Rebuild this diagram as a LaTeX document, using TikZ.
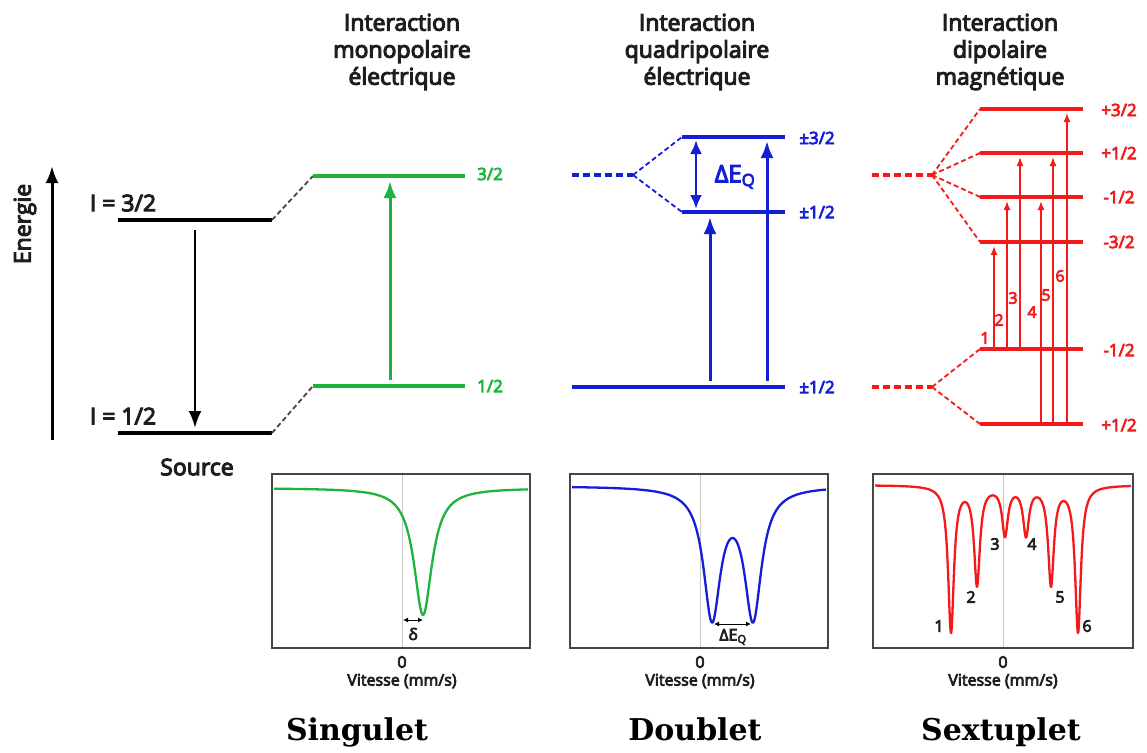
\documentclass[tikz,border=0pt]{standalone}
\usepackage{fontspec}
\setmainfont{Open Sans}[UprightFeatures={FakeBold=4.5}]
\newfontfamily\slab{DejaVu Serif}
\usetikzlibrary{arrows.meta}
\definecolor{cgreen}{RGB}{30,180,60}
\definecolor{cblue}{RGB}{20,30,215}
\definecolor{cred}{RGB}{245,25,25}
\definecolor{cframe}{RGB}{70,70,70}
\definecolor{czero}{RGB}{200,200,200}
\definecolor{ctext}{RGB}{30,30,30}
\begin{document}
\begin{tikzpicture}[x=1pt,y=-1pt,
  big/.style={font=\fontsize{23}{27}\selectfont, text=ctext, inner sep=0pt, align=center},
  lvlab/.style={font=\fontsize{17}{19}\selectfont, inner sep=0pt},
  small/.style={font=\fontsize{16}{18}\selectfont, text=ctext, inner sep=0pt},
  fin/.style={font=\slab\bfseries\fontsize{30}{32}\selectfont, text=black, inner sep=0pt, anchor=base},
  lvl/.style={line width=3.6pt},
  dsh/.style={line width=1.8pt, dash pattern=on 5pt off 3pt},
  dshb/.style={line width=3.6pt, dash pattern=on 7pt off 4pt},
  bigarr/.style={line width=3pt, -{Latex[length=17pt,width=13pt]}},
  redarr/.style={line width=1.6pt, -{Latex[length=9pt,width=7pt]}},
  frame/.style={draw=cframe, line width=2pt},
  zero/.style={draw=czero, line width=0.8pt},
  curve/.style={line width=2.3pt, line join=round},
  tiny/.style={line width=1pt, {Latex[length=5pt,width=5pt]}-{Latex[length=5pt,width=5pt]}}
]
\useasboundingbox (0,0) rectangle (1147,752);
\fill[white] (0,0) rectangle (1147,752);

% ---------------- titles
\node[big] (t1) at (402,52) {Interaction\\monopolaire\\électrique};
\node[big] (t2) at (697,52) {Interaction\\quadripolaire\\électrique};
\node[big] (t3) at (1000,52) {Interaction\\dipolaire\\magnétique};

% ---------------- energy axis
\coordinate (eB) at (52,440);
\coordinate (eT) at (52,166);
\draw[line width=3pt, -{Latex[length=17pt,width=13pt]}] (eB) -- (eT);
\node[big, rotate=90] (energie) at (25,224) {Energie};

% ---------------- source levels (black)
\coordinate (bA1) at (118,220); \coordinate (bA2) at (272,220);
\coordinate (bB1) at (118,433); \coordinate (bB2) at (272,433);
\draw[lvl] (bA1) -- (bA2);
\draw[lvl] (bB1) -- (bB2);
\node[big] (i32) at (123,203) {I = 3/2};
\node[big] (i12) at (123,416) {I = 1/2};
\coordinate (sA) at (195,230); \coordinate (sB) at (195,428);
\draw[bigarr, line width=2.6pt] (sA) -- (sB);
\node[big] (source) at (197,467) {Source};

% ---------------- green (monopole)
\coordinate (gA1) at (313,176); \coordinate (gA2) at (465,176);
\coordinate (gB1) at (313,386); \coordinate (gB2) at (465,386);
\draw[dsh, cframe] (bA2) -- (gA1);
\draw[dsh, cframe] (bB2) -- (gB1);
\draw[lvl, cgreen] (gA1) -- (gA2);
\draw[lvl, cgreen] (gB1) -- (gB2);
\coordinate (gU) at (390,380); \coordinate (gV) at (390,181);
\draw[bigarr, cgreen] (gU) -- (gV);
\node[lvlab, text=cgreen] (g32) at (490,174) {3/2};
\node[lvlab, text=cgreen] (g12) at (490,386) {1/2};

% ---------------- blue (quadrupole)
\coordinate (q0a) at (572,175); \coordinate (q0b) at (633,175);
\coordinate (qA1) at (682,137); \coordinate (qA2) at (785,137);
\coordinate (qB1) at (682,212); \coordinate (qB2) at (785,212);
\coordinate (qC1) at (572,387); \coordinate (qC2) at (785,387);
\draw[dshb, cblue] (q0a) -- (q0b);
\draw[dsh, cblue] (q0b) -- (qA1);
\draw[dsh, cblue] (q0b) -- (qB1);
\draw[lvl, cblue] (qA1) -- (qA2);
\draw[lvl, cblue] (qB1) -- (qB2);
\draw[lvl, cblue] (qC1) -- (qC2);
\coordinate (dq1) at (696,140); \coordinate (dq2) at (696,209);
\draw[cblue, line width=2.8pt, {Latex[length=14pt,width=12pt]}-{Latex[length=14pt,width=12pt]}] (dq1) -- (dq2);
\node[font=\fontsize{24}{26}\selectfont, text=cblue, inner sep=0pt] (deq) at (735,177) {ΔE\textsubscript{Q}};
\coordinate (qa1) at (710,381); \coordinate (qa2) at (710,217);
\coordinate (qb1) at (767,381); \coordinate (qb2) at (767,141);
\draw[bigarr, cblue] (qa1) -- (qa2);
\draw[bigarr, cblue] (qb1) -- (qb2);
\node[lvlab, text=cblue] (q32) at (817,138) {±3/2};
\node[lvlab, text=cblue] (q12) at (817,212) {±1/2};
\node[lvlab, text=cblue] (q12b) at (817,387) {±1/2};

% ---------------- red (magnetic dipole)
\coordinate (m0a) at (872,175); \coordinate (m0b) at (932,175);
\coordinate (n0a) at (872,387); \coordinate (n0b) at (932,387);
\coordinate (mA1) at (980,109); \coordinate (mA2) at (1083,109);
\coordinate (mB1) at (980,153); \coordinate (mB2) at (1083,153);
\coordinate (mC1) at (980,197); \coordinate (mC2) at (1083,197);
\coordinate (mD1) at (980,242); \coordinate (mD2) at (1083,242);
\coordinate (nA1) at (980,349); \coordinate (nA2) at (1083,349);
\coordinate (nB1) at (980,424); \coordinate (nB2) at (1083,424);
\draw[dshb, cred] (m0a) -- (m0b);
\draw[dshb, cred] (n0a) -- (n0b);
\foreach \t in {mA1,mB1,mC1,mD1} \draw[dsh, cred] (m0b) -- (\t);
\foreach \t in {nA1,nB1} \draw[dsh, cred] (n0b) -- (\t);
\foreach \a/\b in {mA1/mA2,mB1/mB2,mC1/mC2,mD1/mD2,nA1/nA2,nB1/nB2} \draw[lvl, cred] (\a) -- (\b);
\coordinate (r1a) at (994,349); \coordinate (r1b) at (994,246);
\coordinate (r2a) at (1007,349); \coordinate (r2b) at (1007,201);
\coordinate (r3a) at (1020,349); \coordinate (r3b) at (1020,157);
\coordinate (r4a) at (1041,424); \coordinate (r4b) at (1041,201);
\coordinate (r5a) at (1053,424); \coordinate (r5b) at (1053,157);
\coordinate (r6a) at (1067,424); \coordinate (r6b) at (1067,113);
\foreach \i in {1,...,6} \draw[redarr, cred] (r\i a) -- (r\i b);
\tikzset{rnum/.style={inner sep=0pt, text=cred, font=\fontsize{16}{18}\selectfont}}
\node[rnum] (rn1) at (985,338) {1};
\node[rnum] (rn2) at (999,320) {2};
\node[rnum] (rn3) at (1013,298) {3};
\node[rnum] (rn4) at (1032,312) {4};
\node[rnum] (rn5) at (1046,295) {5};
\node[rnum] (rn6) at (1060,276) {6};
\node[lvlab, text=cred] (l1) at (1119,110) {+3/2};
\node[lvlab, text=cred] (l2) at (1119,153) {+1/2};
\node[lvlab, text=cred] (l3) at (1119,197) {-1/2};
\node[lvlab, text=cred] (l4) at (1119,242) {-3/2};
\node[lvlab, text=cred] (l5) at (1119,350) {-1/2};
\node[lvlab, text=cred] (l6) at (1119,425) {+1/2};

% ---------------- spectra
% green
\draw[zero] (402,475) -- (402,647);
\draw[curve, cgreen] plot[domain=274:528, samples=300] (\x, {488+127/(1+((\x-423)/11)^2)});
\draw[frame] (272,474) rectangle (530,648);
\coordinate (da) at (403,620); \coordinate (db) at (423,620);
\draw[tiny] (da) -- (db);
\node[small] (delta) at (413,634) {δ};
\node[small] (z1) at (402,662) {0};
\node[small] (v1) at (402,681) {Vitesse (mm/s)};
% blue
\draw[zero] (700,475) -- (700,647);
\draw[curve, cblue] plot[domain=572:826, samples=400] (\x, {486+129/(1+((\x-712)/10.3)^2)+129/(1+((\x-753)/10.3)^2)});
\draw[frame] (570,474) rectangle (828,648);
\coordinate (ea) at (714,624); \coordinate (eb) at (751,624);
\draw[tiny] (ea) -- (eb);
\node[small] (deq2) at (733,637) {ΔE\textsubscript{Q}};
\node[small] (z2) at (700,662) {0};
\node[small] (v2) at (700,681) {Vitesse (mm/s)};
% red
\draw[zero] (1003,475) -- (1003,647);
\draw[curve, cred] plot[domain=875:1131, samples=700] (\x, {485+146/(1+((\x-951)/3.5)^2)+98/(1+((\x-977)/3.5)^2)+48/(1+((\x-1005)/3.5)^2)+48/(1+((\x-1026)/3.5)^2)+98/(1+((\x-1051)/3.5)^2)+146/(1+((\x-1078)/3.5)^2)});
\draw[frame] (873,474) rectangle (1133,648);
\node[small] (p1) at (939,626) {1};
\node[small] (p2) at (971,597) {2};
\node[small] (p3) at (995,544) {3};
\node[small] (p4) at (1032,544) {4};
\node[small] (p5) at (1060,597) {5};
\node[small] (p6) at (1087,626) {6};
\node[small] (z3) at (1003,662) {0};
\node[small] (v3) at (1003,681) {Vitesse (mm/s)};

% ---------------- bottom labels
\node[fin] (sing) at (357,740) {Singulet};
\node[fin] (doub) at (695,740) {Doublet};
\node[fin] (sext) at (1001,740) {Sextuplet};
\end{tikzpicture}
\end{document}
